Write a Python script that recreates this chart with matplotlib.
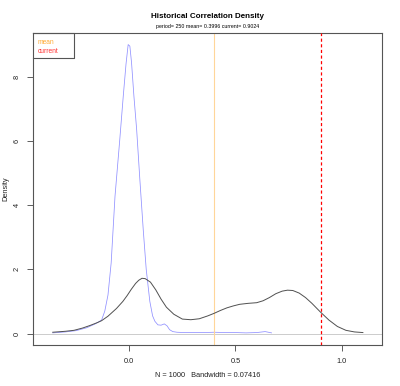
import matplotlib
matplotlib.use("Agg")
import matplotlib.pyplot as plt

plt.rcParams['font.family'] = ['Liberation Sans', 'DejaVu Sans']

# density of current correlation window (black) and historical (blue)
black_x = [-0.36, -0.30, -0.26, -0.22, -0.185, -0.15, -0.13, -0.10, -0.06, -0.03,
           -0.01, 0.01, 0.03, 0.045, 0.06, 0.075, 0.10, 0.125, 0.15, 0.175,
           0.21, 0.25, 0.29, 0.33, 0.37, 0.40, 0.43, 0.46, 0.49, 0.52,
           0.56, 0.60, 0.63, 0.66, 0.69, 0.72, 0.745, 0.77, 0.80, 0.83,
           0.86, 0.90, 0.94, 0.98, 1.02, 1.06, 1.10]
black_y = [0.04, 0.07, 0.10, 0.17, 0.25, 0.34, 0.40, 0.54, 0.78, 1.00,
           1.18, 1.38, 1.56, 1.66, 1.72, 1.71, 1.60, 1.36, 1.07, 0.82,
           0.60, 0.45, 0.43, 0.46, 0.55, 0.63, 0.72, 0.80, 0.86, 0.91,
           0.94, 0.96, 1.02, 1.12, 1.24, 1.32, 1.35, 1.34, 1.26, 1.12,
           0.94, 0.67, 0.42, 0.22, 0.10, 0.05, 0.03]

blue_x = [-0.36, -0.30, -0.25, -0.20, -0.16, -0.13, -0.115, -0.10, -0.085, -0.067,
          -0.045, -0.028, -0.015, -0.005, 0.003, 0.011, 0.022, 0.035, 0.05, 0.066,
          0.08, 0.097, 0.11, 0.121, 0.135, 0.15, 0.165, 0.178, 0.19, 0.205,
          0.225, 0.26, 0.30, 0.35, 0.40, 0.45, 0.50, 0.55, 0.60, 0.64,
          0.655, 0.67]
blue_y = [0.02, 0.05, 0.09, 0.18, 0.30, 0.42, 0.70, 1.20, 2.20, 4.27,
          6.00, 7.40, 8.40, 9.00, 8.95, 8.43, 7.40, 6.35, 4.80, 3.23,
          2.00, 1.00, 0.55, 0.38, 0.27, 0.26, 0.30, 0.24, 0.12, 0.06,
          0.04, 0.03, 0.03, 0.03, 0.04, 0.03, 0.03, 0.02, 0.03, 0.06,
          0.04, 0.02]

period = 250
mean_val = 0.3996
current_val = 0.9024
n_obs = 1000
bandwidth = 0.07416

x_ticks = [0.0, 0.5, 1.0]
x_tick_labels = ['0.0', '0.5', '1.0']
y_ticks = [0, 2, 4, 6, 8]

fig = plt.figure(figsize=(4.0, 3.86), dpi=100)
ax = fig.add_axes([0.0825, 0.106, 0.8725, 0.8085])

ax.axhline(0, color='#cccccc', lw=0.7, zorder=1)
ax.plot(black_x, black_y, color='#505050', lw=0.7, zorder=3)
ax.plot(blue_x, blue_y, color='#9090ff', lw=0.55, zorder=2)
ax.axvline(mean_val, color='#ffd699', lw=0.8, zorder=2)
ax.axvline(current_val, color='red', lw=0.9, ls='--', dashes=(2.5, 2), zorder=4)

ax.set_xlim(-0.453, 1.19)
ax.set_ylim(-0.36, 9.36)
ax.set_xticks(x_ticks)
ax.set_xticklabels(x_tick_labels)
ax.set_yticks(y_ticks)
ax.set_yticklabels([str(v) for v in y_ticks], rotation=90, va='center')
ax.tick_params(direction='out', length=4, width=0.6, color='#444444',
               labelsize=5.3, pad=5, labelcolor='#222222')

for s in ax.spines.values():
    s.set_color('#555555')
    s.set_linewidth(0.8)

ax.set_xlabel(f'N = {n_obs}   Bandwidth = {bandwidth}', fontsize=5.3, color='#222222')
ax.xaxis.set_label_coords(0.5, -0.085)
ax.set_ylabel('Density', fontsize=5.3, color='#222222')
ax.yaxis.set_label_coords(-0.068, 0.5)

fig.text(0.519, 0.957, 'Historical Correlation Density', ha='center', va='center',
         fontsize=5.8, fontweight='bold')
fig.text(0.519, 0.932, f'period= {period} mean= {mean_val} current= {current_val}',
         ha='center', va='center', fontsize=3.8)

# legend box with coloured text only
ax.text(0.013, 0.968, 'mean', transform=ax.transAxes, color='#ffaa33',
        fontsize=4.8, va='center')
ax.text(0.013, 0.942, 'current', transform=ax.transAxes, color='#ff3333',
        fontsize=4.8, va='center')
ax.plot([0.0, 0.117, 0.117, 0.0], [1.0, 1.0, 0.92, 0.92], transform=ax.transAxes,
        color='#555555', lw=0.8, clip_on=False)

fig.savefig('out.png', dpi=100)
